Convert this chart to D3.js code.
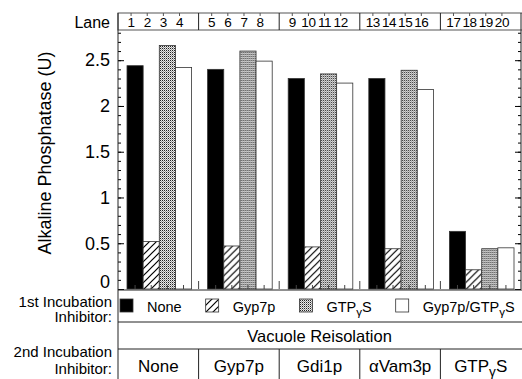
<!DOCTYPE html>
<html>
<head>
<meta charset="utf-8">
<script src="https://cdn.jsdelivr.net/npm/d3@7"></script>
<style>
  body { margin: 0; background: #fff; }
  text { font-family: "Liberation Sans", Arial, sans-serif; fill: #000; }
</style>
</head>
<body>
<div id="chart"></div>
<script>
// values
const groups = ["None", "Gyp7p", "Gdi1p", "αVam3p", "GTPγS"];
const series = ["None", "Gyp7p", "GTPγS", "Gyp7p/GTPγS"];
const laneLabels = ["1","2","3","4","5","6","7","8","9","10","11","12","13","14","15","16","17","18","19","20"];
const valNone  = [2.44, 2.40, 2.30, 2.30, 0.63];
const valGyp7p = [0.52, 0.47, 0.46, 0.44, 0.21];
const valGTPgS = [2.66, 2.60, 2.35, 2.39, 0.44];
const valBoth  = [2.42, 2.49, 2.25, 2.18, 0.45];
const yTicks = [0, 0.5, 1, 1.5, 2, 2.5];

const W = 522, H = 379;
const left = 118, right = 521;
const laneTop = 13, plotTop = 30;

const svg = d3.select("#chart").append("svg")
  .attr("width", W).attr("height", H);

// patterns
const defs = svg.append("defs");
const hatch = defs.append("pattern").attr("id", "hatch")
  .attr("patternUnits", "userSpaceOnUse").attr("width", 7).attr("height", 7);
hatch.append("rect").attr("width", 7).attr("height", 7).attr("fill", "#fff");
hatch.append("path").attr("d", "M0,7 L7,0 M-1,1 L1,-1 M6,8 L8,6")
  .attr("stroke", "#000").attr("stroke-width", 1.2);
const stip = defs.append("pattern").attr("id", "stip")
  .attr("patternUnits", "userSpaceOnUse").attr("width", 2).attr("height", 2);
stip.append("rect").attr("width", 2).attr("height", 2).attr("fill", "#e8e8e8");
stip.append("rect").attr("width", 1).attr("height", 1).attr("fill", "#222");
stip.append("rect").attr("x", 1).attr("y", 1).attr("width", 1).attr("height", 1).attr("fill", "#999");

const fills = ["#000", "url(#hatch)", "url(#stip)", "#fff"];

// scales
const x0 = d3.scaleBand().domain(groups).range([left, right]);
const x1 = d3.scaleBand().domain(series).range([9, x0.bandwidth() - 7]);
const y = d3.scaleLinear().domain([0, 2.83]).range([289, plotTop]);

// GTPγS-style text with subscript gamma
function richText(sel, str) {
  const parts = str.split("γ");
  sel.text(null);
  sel.append("tspan").text(parts[0]);
  for (let i = 1; i < parts.length; i++) {
    sel.append("tspan").attr("dy", 4).attr("font-size", "0.8em").text("γ");
    sel.append("tspan").attr("dy", -4).text(parts[i]);
  }
}

// bars
const rows = groups.map((g, i) => ({
  g, vals: [valNone[i], valGyp7p[i], valGTPgS[i], valBoth[i]]
}));
const gBars = svg.append("g").selectAll("g").data(rows).join("g")
  .attr("transform", d => `translate(${x0(d.g)},0)`);
gBars.selectAll("rect").data(d => d.vals.map((v, k) => ({ v, s: series[k], k })))
  .join("rect")
  .attr("x", d => x1(d.s))
  .attr("y", d => y(d.v))
  .attr("width", x1.bandwidth())
  .attr("height", d => y(0) - y(d.v))
  .attr("fill", d => fills[d.k])
  .attr("stroke", "#333")
  .attr("stroke-width", 0.8);

// lane centres
const lanePos = [];
groups.forEach(g => series.forEach(s => lanePos.push(x0(g) + x1(s) + x1.bandwidth() / 2)));

// y axes with minor ticks
const minor = d3.range(0, 2.81, 0.1);
svg.append("g").attr("transform", `translate(${left},0)`)
  .call(d3.axisLeft(y).tickValues(minor).tickSize(-3).tickFormat(""))
  .call(g => g.select(".domain").remove());
svg.append("g").attr("transform", `translate(${left},0)`)
  .call(d3.axisLeft(y).tickValues(yTicks).tickSizeInner(-6).tickSizeOuter(0)
    .tickPadding(8).tickFormat(d => String(d)))
  .call(g => g.select(".domain").remove())
  .call(g => g.selectAll("text").attr("font-size", 18).attr("font-family", "Liberation Sans, Arial")
    .attr("dy", d => d === 0 ? "-0.08em" : "0.32em"));
svg.append("g").attr("transform", `translate(${right},0)`)
  .call(d3.axisRight(y).tickValues(minor).tickSize(-3).tickFormat(""))
  .call(g => g.select(".domain").remove());
svg.append("g").attr("transform", `translate(${right},0)`)
  .call(d3.axisRight(y).tickValues(yTicks).tickSize(-6).tickFormat(""))
  .call(g => g.select(".domain").remove());

// baseline lane ticks and group separators
svg.append("g").selectAll("line").data(lanePos).join("line")
  .attr("x1", d => d).attr("x2", d => d)
  .attr("y1", y(0)).attr("y2", y(0) - 4)
  .attr("stroke", "#444");
svg.append("g").selectAll("line").data(groups.slice(1)).join("line")
  .attr("x1", d => x0(d)).attr("x2", d => x0(d))
  .attr("y1", y(0)).attr("y2", y(0) - 8)
  .attr("stroke", "#444");

// lane box
const lane = svg.append("g");
lane.append("rect").attr("x", left).attr("y", laneTop)
  .attr("width", right - left + 4).attr("height", plotTop - laneTop)
  .attr("fill", "none").attr("stroke", "#555");
lane.selectAll("line.sep").data(groups.slice(1)).join("line").attr("class", "sep")
  .attr("x1", d => x0(d)).attr("x2", d => x0(d))
  .attr("y1", laneTop).attr("y2", plotTop).attr("stroke", "#222");
lane.selectAll("line.tk").data(lanePos).join("line").attr("class", "tk")
  .attr("x1", d => d - 4).attr("x2", d => d - 4)
  .attr("y1", laneTop).attr("y2", laneTop + 3).attr("stroke", "#555");
lane.selectAll("text").data(laneLabels).join("text")
  .attr("x", (d, i) => lanePos[i] - 4)
  .attr("y", 27)
  .attr("text-anchor", "middle")
  .attr("font-size", 13.5)
  .attr("letter-spacing", -0.4)
  .text(d => d);
svg.append("text").attr("x", 110).attr("y", 28).attr("text-anchor", "end")
  .attr("font-size", 16).text("Lane");

// y label
svg.append("text")
  .attr("transform", `translate(51,153) rotate(-90)`)
  .attr("text-anchor", "middle")
  .attr("font-size", 18)
  .text("Alkaline Phosphatase (U)");

// frame lines
const frame = svg.append("g").attr("stroke", "#222").attr("stroke-width", 1);
frame.append("line").attr("x1", left).attr("x2", left).attr("y1", laneTop).attr("y2", H);
frame.append("line").attr("x1", right).attr("x2", right).attr("y1", laneTop).attr("y2", y(0));
frame.append("line").attr("x1", left).attr("x2", W).attr("y1", y(0) + 1).attr("y2", y(0) + 1);
frame.append("line").attr("x1", left).attr("x2", W).attr("y1", 322).attr("y2", 322);
frame.append("line").attr("x1", left).attr("x2", W).attr("y1", 349).attr("y2", 349);
frame.selectAll("line.gs").data(groups.slice(1)).join("line").attr("class", "gs")
  .attr("x1", d => x0(d)).attr("x2", d => x0(d)).attr("y1", 349).attr("y2", H);

// legend (1st incubation inhibitor)
let lx = 120;
series.forEach((s, k) => {
  svg.append("rect").attr("x", lx).attr("y", 299).attr("width", 13).attr("height", 13)
    .attr("fill", fills[k]).attr("stroke", "#333").attr("stroke-width", 0.8);
  const t = svg.append("text").attr("x", lx + 27).attr("y", 312).attr("font-size", 14.5);
  richText(t, s);
  lx += 27 + t.node().getComputedTextLength() + 24;
});

// left row labels
const rowLabels = [["1st Incubation", 306.5], ["Inhibitor:", 322], ["2nd Incubation", 357], ["Inhibitor:", 374]];
svg.append("g").selectAll("text").data(rowLabels).join("text")
  .attr("x", 112).attr("y", d => d[1]).attr("text-anchor", "end")
  .attr("font-size", 15).text(d => d[0]);

svg.append("text").attr("x", (left + right) / 2).attr("y", 342)
  .attr("text-anchor", "middle").attr("font-size", 16.5).text("Vacuole Reisolation");

// 2nd incubation inhibitor labels
svg.append("g").selectAll("text").data(groups).join("text")
  .attr("x", d => x0(d) + x0.bandwidth() / 2)
  .attr("y", 372).attr("text-anchor", "middle").attr("font-size", 17)
  .each(function(d) { richText(d3.select(this), d); });
</script>
</body>
</html>
